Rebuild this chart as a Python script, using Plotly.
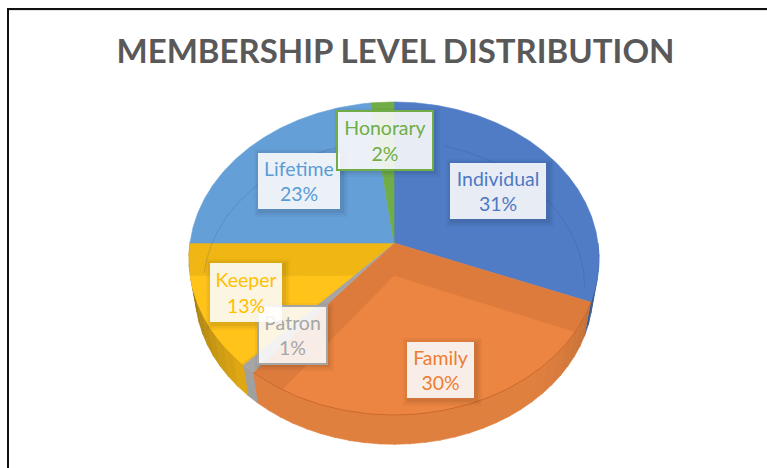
import numpy as np
import plotly.graph_objects as go

categories = ["Individual", "Family", "Patron", "Keeper", "Lifetime", "Honorary"]
values = [31, 30, 1, 13, 23, 2]
top_colors = ["#507CC6", "#DD7B3D", "#A5A5A5", "#EFB614", "#659FD7", "#70AD47"]
bright_colors = [None, "#EC8542", "#B0B0B0", "#FFC31A", None, None]
side_dark = ["#33527F", "#A9602E", "#8C8C8C", "#7D6412", "#659FD7", "#70AD47"]
side_base = ["#3F66A8", "#E0803F", "#A0A0A0", "#E5AC14", "#659FD7", "#70AD47"]
text_colors = ["#4F78C4", "#ED7D31", "#A5A5A5", "#FFC000", "#5B9BD5", "#70AD47"]
label_boxes = {
    "Individual": (498, 191, 96, 56),
    "Family": (440.5, 370, 67, 56),
    "Patron": (292.5, 335, 67, 56),
    "Keeper": (246, 292.5, 72, 59),
    "Lifetime": (299, 181, 82, 56),
    "Honorary": (385, 140.5, 94, 57),
}
draw_order = ["Individual", "Family", "Patron", "Keeper", "Lifetime", "Honorary"]
title = "MEMBERSHIP LEVEL DISTRIBUTION"

CX, CY, RX, RA, PB = 394, 243, 204, 155, -0.099
BASE_SCALE, BASE_SHIFT = 0.97, 35


def project(theta_deg, scale=1.0, shift=0.0):
    t = np.radians(theta_deg)
    u, v = scale * np.sin(t), -scale * np.cos(t)
    den = 1 + PB * v
    return CX + RX * u / den, CY + RA * v / den + shift


def mix(c1, c2, f):
    a = [int(c1[i:i + 2], 16) for i in (1, 3, 5)]
    b = [int(c2[i:i + 2], 16) for i in (1, 3, 5)]
    return "rgb(" + ",".join(str(round(x + (y - x) * f)) for x, y in zip(a, b)) + ")"


fig = go.Figure()


def poly(x, y, color):
    fig.add_trace(go.Scatter(x=list(x), y=list(y), mode="lines", fill="toself",
                             fillcolor=color, line=dict(width=0.6, color=color),
                             hoverinfo="skip", showlegend=False))


cum = np.cumsum([0] + values) / sum(values) * 360
starts, ends = cum[:-1], cum[1:]

# side wall, built from the slices' front arcs
for i, _ in enumerate(categories):
    a0, a1 = max(starts[i], 90), min(ends[i], 270)
    if a0 >= a1:
        continue
    n = max(1, int((a1 - a0) / 4))
    edges = np.linspace(a0, a1, n + 1)
    for e0, e1 in zip(edges[:-1], edges[1:]):
        mid = (e0 + e1) / 2
        f = min(1.0, abs(np.cos(np.radians(mid))) * 1.25 + 0.05)
        col = mix(side_dark[i], side_base[i], f)
        arc = np.linspace(e0, e1 + 0.3, 5)
        xt, yt = project(arc)
        xb, yb = project(arc, scale=BASE_SCALE, shift=BASE_SHIFT)
        poly(np.r_[xt, xb[::-1]], np.r_[yt, yb[::-1]], col)

# top face
for i, _ in enumerate(categories):
    arc = np.linspace(starts[i], ends[i], max(3, int(ends[i] - starts[i]) * 2))
    xa, ya = project(arc)
    poly(np.r_[CX, xa, CX], np.r_[CY, ya, CY], top_colors[i])

# lit part of the top face (front of the slices)
fam = categories.index("Family")
arc = np.linspace(123, 210, 80)
xa, ya = project(arc)
poly(np.r_[CX, xa, CX], np.r_[CY + 33, ya, CY + 33], bright_colors[fam])

kee = categories.index("Keeper")
arc = np.linspace(starts[kee] + 0.5, 258, 40)
xa, ya = project(arc)
ex, ey = project(starts[kee])
frac = 33 / (ey - CY)
poly(np.r_[CX + (ex - CX) * frac, xa, CX + (ex - CX) * frac],
     np.r_[CY + 33, ya, CY + 33], bright_colors[kee])

# rim line on the front and faint inner ring at the back
arc = np.linspace(starts[fam], ends[fam], 120)
xa, ya = project(arc)
fig.add_trace(go.Scatter(x=xa, y=ya, mode="lines", line=dict(color="#C9692C", width=1),
                         hoverinfo="skip", showlegend=False))
for a0, a1 in [(270, 343), (17, 96)]:
    arc = np.linspace(a0, a1, 100)
    xa, ya = project(arc, scale=0.93, shift=30)
    fig.add_trace(go.Scatter(x=xa, y=ya, mode="lines",
                             line=dict(color="rgba(40,70,120,0.2)", width=1),
                             hoverinfo="skip", showlegend=False))

# data labels
total = sum(values)
annotations = []
shapes = []
for name in draw_order:
    i = categories.index(name)
    cx, cy, w, h = label_boxes[name]
    bordered = name in ("Patron", "Honorary")
    for grow, alpha in [(6, 0.03), (4, 0.04), (2, 0.05)]:
        shapes.append(dict(type="rect", xref="x", yref="y", layer="above",
                           x0=cx - w / 2 - grow + 2, x1=cx + w / 2 + grow + 2,
                           y0=cy - h / 2 - grow + 2, y1=cy + h / 2 + grow + 2,
                           fillcolor=f"rgba(0,0,0,{alpha})", line=dict(width=0)))
    annotations.append(dict(
        x=cx, y=cy, xref="x", yref="y", xanchor="center", yanchor="middle",
        width=w, height=h, align="center", valign="middle", showarrow=False, borderpad=0,
        text=f"{name}<br>{round(values[i] / total * 100)}%",
        font=dict(family="Lato", size=19.5, color=text_colors[i]),
        bgcolor="rgba(255,255,255,0.88)",
        bordercolor=text_colors[i] if bordered else "rgba(0,0,0,0)",
        borderwidth=2 if bordered else 0,
    ))

shapes += [
    dict(type="line", xref="x", yref="y", x0=8, x1=8, y0=9, y1=468,
         line=dict(color="#111111", width=2)),
    dict(type="line", xref="x", yref="y", x0=7, x1=767, y0=9, y1=9,
         line=dict(color="#111111", width=2)),
    dict(type="line", xref="x", yref="y", x0=9, x1=767, y0=10.5, y1=10.5,
         line=dict(color="#E4E4E4", width=1)),
]

fig.update_layout(
    width=767, height=468, autosize=False,
    margin=dict(l=0, r=0, t=0, b=0),
    paper_bgcolor="white", plot_bgcolor="white",
    title=dict(text=title, x=395.5 / 767, y=1 - 51 / 468, xanchor="center", yanchor="middle",
               font=dict(family="Lato", size=33, color="#595959", weight="bold")),
    xaxis=dict(range=[0, 767], visible=False, fixedrange=True),
    yaxis=dict(range=[468, 0], visible=False, fixedrange=True),
    annotations=annotations, shapes=shapes, showlegend=False,
)
fig.write_html("out.html", config=dict(displayModeBar=False),
               post_script="document.body.style.margin='0';document.body.style.overflow='hidden';")
